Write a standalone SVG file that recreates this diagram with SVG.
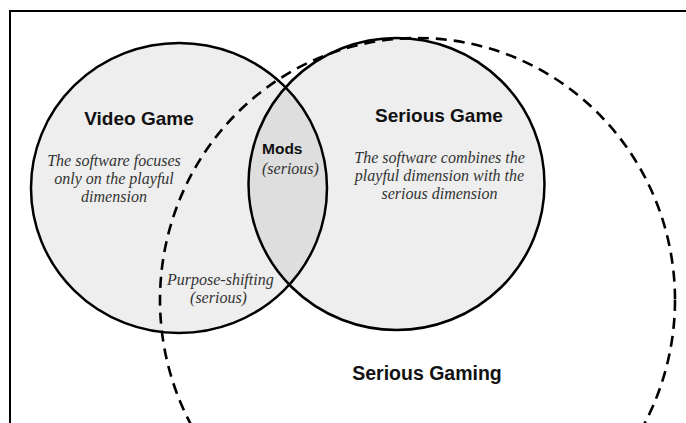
<svg xmlns="http://www.w3.org/2000/svg" width="686" height="423" viewBox="0 0 686 423">
<style>
.set{fill:#eeeeee;stroke:none}
.edge{fill:none;stroke:#000;stroke-width:2.5}
.dash{fill:none;stroke:#000;stroke-width:2.6;stroke-dasharray:11 7}
.title{font-family:"Liberation Sans",Arial,sans-serif;font-weight:bold;font-size:19px;fill:#111;text-anchor:middle}
.desc{font-family:"Liberation Serif","Times New Roman",serif;font-style:italic;font-size:16px;fill:#333;text-anchor:middle}
</style>
<defs>
<clipPath id="leftClip"><ellipse cx="179" cy="188" rx="148" ry="145"/></clipPath>
</defs>
<rect x="10" y="11" width="700" height="450" fill="#fff" stroke="#000" stroke-width="2"/>
<g id="video-game">
<ellipse class="set" cx="179" cy="188" rx="148" ry="145"/>
</g>
<g id="serious-game">
<ellipse class="set" cx="396.5" cy="184" rx="148" ry="146"/>
</g>
<g id="mods">
<ellipse cx="396.5" cy="184" rx="148" ry="146" fill="#dedede" clip-path="url(#leftClip)"/>
</g>
<g id="serious-gaming">
<ellipse class="dash" cx="417.5" cy="300" rx="257.5" ry="262"/>
</g>
<g id="outlines">
<ellipse class="edge" cx="179" cy="188" rx="148" ry="145"/>
<ellipse class="edge" cx="396.5" cy="184" rx="148" ry="146"/>
</g>
<g id="labels">
<text class="title" x="139" y="125">Video Game</text>
<text class="desc" x="114" y="166">The software focuses</text>
<text class="desc" x="114" y="184">only on the playful</text>
<text class="desc" x="114" y="202">dimension</text>
<text class="title" x="439" y="122">Serious Game</text>
<text class="desc" x="439.5" y="163">The software combines the</text>
<text class="desc" x="439.5" y="181">playful dimension with the</text>
<text class="desc" x="439.5" y="199">serious dimension</text>
<text class="title" x="262" y="154" style="text-anchor:start;font-size:15.5px">Mods</text>
<text class="desc" x="262" y="174" style="text-anchor:start">(serious)</text>
<text class="desc" x="167" y="285" style="text-anchor:start">Purpose-shifting</text>
<text class="desc" x="218.5" y="303">(serious)</text>
<text class="title" x="427" y="380" style="font-size:19.5px">Serious Gaming</text>
</g>
</svg>
